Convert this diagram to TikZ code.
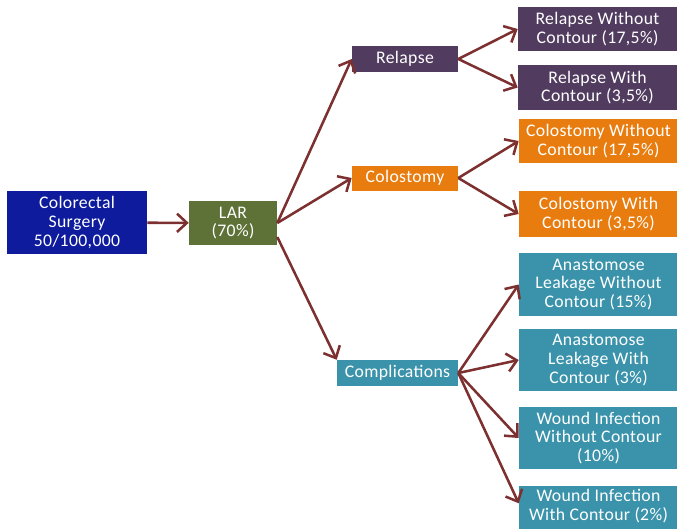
\documentclass[tikz,border=0pt]{standalone}
\usepackage{fontspec}
\setmainfont{Carlito}[LetterSpace=2]
\usetikzlibrary{arrows.meta,positioning}
\definecolor{surgblue}{RGB}{13,27,156}
\definecolor{largreen}{RGB}{94,113,55}
\definecolor{relpurple}{RGB}{81,60,96}
\definecolor{colorange}{RGB}{232,124,14}
\definecolor{compteal}{RGB}{58,147,170}
\definecolor{arrowred}{RGB}{125,48,48}
\begin{document}
\begin{tikzpicture}[x=0.025cm,y=-0.025cm,
	box/.style={inner sep=0pt, text=white, align=center,
		font=\fontsize{12.6}{13.3}\selectfont},
	leaf/.style={box, minimum width=3.975cm},
	arr/.style={draw=arrowred, line width=1.8pt,
		-{Straight Barb[length=7pt,width=13pt]}}]
	\clip (0,0) rectangle (677,528);
	\node [box, fill=surgblue, minimum width=3.5cm, minimum height=1.575cm] (cs) at (77,222.5) {Colorectal\\Surgery\\50/100,000};
	\node [box, fill=largreen, minimum width=2.2cm, minimum height=1.1cm] (lar) at (233,223) {LAR\\(70\%)};
	\node [box, fill=relpurple, minimum width=2.65cm, minimum height=0.65cm] (rel) at (405,59) {Relapse};
	\node [box, fill=colorange, minimum width=2.65cm, minimum height=0.625cm] (col) at (405,178) {Colostomy};
	\node [box, fill=compteal, minimum width=3.025cm, minimum height=0.65cm] (comp) at (397.5,373) {Complications};
	\node [leaf, fill=relpurple, minimum height=1.1cm] (relwo) at (597.5,29) {Relapse Without\\Contour (17,5\%)};
	\node [leaf, fill=relpurple, minimum height=1.125cm] (relw) at (597.5,87.5) {Relapse With\\Contour (3,5\%)};
	\node [leaf, fill=colorange, minimum height=1.1cm] (colwo) at (598.5,141) {Colostomy Without\\Contour (17,5\%)};
	\node [leaf, fill=colorange, minimum height=1.15cm] (colw) at (598.5,214) {Colostomy With\\Contour (3,5\%)};
	\node [leaf, fill=compteal, minimum height=1.575cm] (alwo) at (598.5,284.5) {Anastomose\\Leakage Without\\Contour (15\%)};
	\node [leaf, fill=compteal, minimum height=1.55cm] (alw) at (598.5,360) {Anastomose\\Leakage With\\Contour (3\%)};
	\node [leaf, fill=compteal, minimum height=1.55cm] (wiwo) at (598.5,438) {Wound Infection\\Without Contour\\(10\%)};
	\node [leaf, fill=compteal, minimum height=1.55cm, anchor=north] (wiw) at (598.5,486) {Wound Infection\\With Contour (2\%)\\\strut};
	\draw [arr] (cs) -- (lar);
	\draw [arr] (lar.east) -- (rel.west);
	\draw [arr] (lar.east) -- (col.west);
	\draw [arr] ([yshift=-0.35cm]lar.east) -- (comp.north west);
	\draw [arr] (rel.east) -- (relwo.west);
	\draw [arr] (rel.east) -- (relw.west);
	\draw [arr] (col.east) -- (colwo.west);
	\draw [arr] (col.east) -- (colw.west);
	\draw [arr] (comp.east) -- (alwo.west);
	\draw [arr] (comp.east) -- (alw.west);
	\draw [arr] (comp.east) -- (wiwo.west);
	\draw [arr] (comp.east) -- ([yshift=0.35cm]wiw.west);
\end{tikzpicture}
\end{document}
